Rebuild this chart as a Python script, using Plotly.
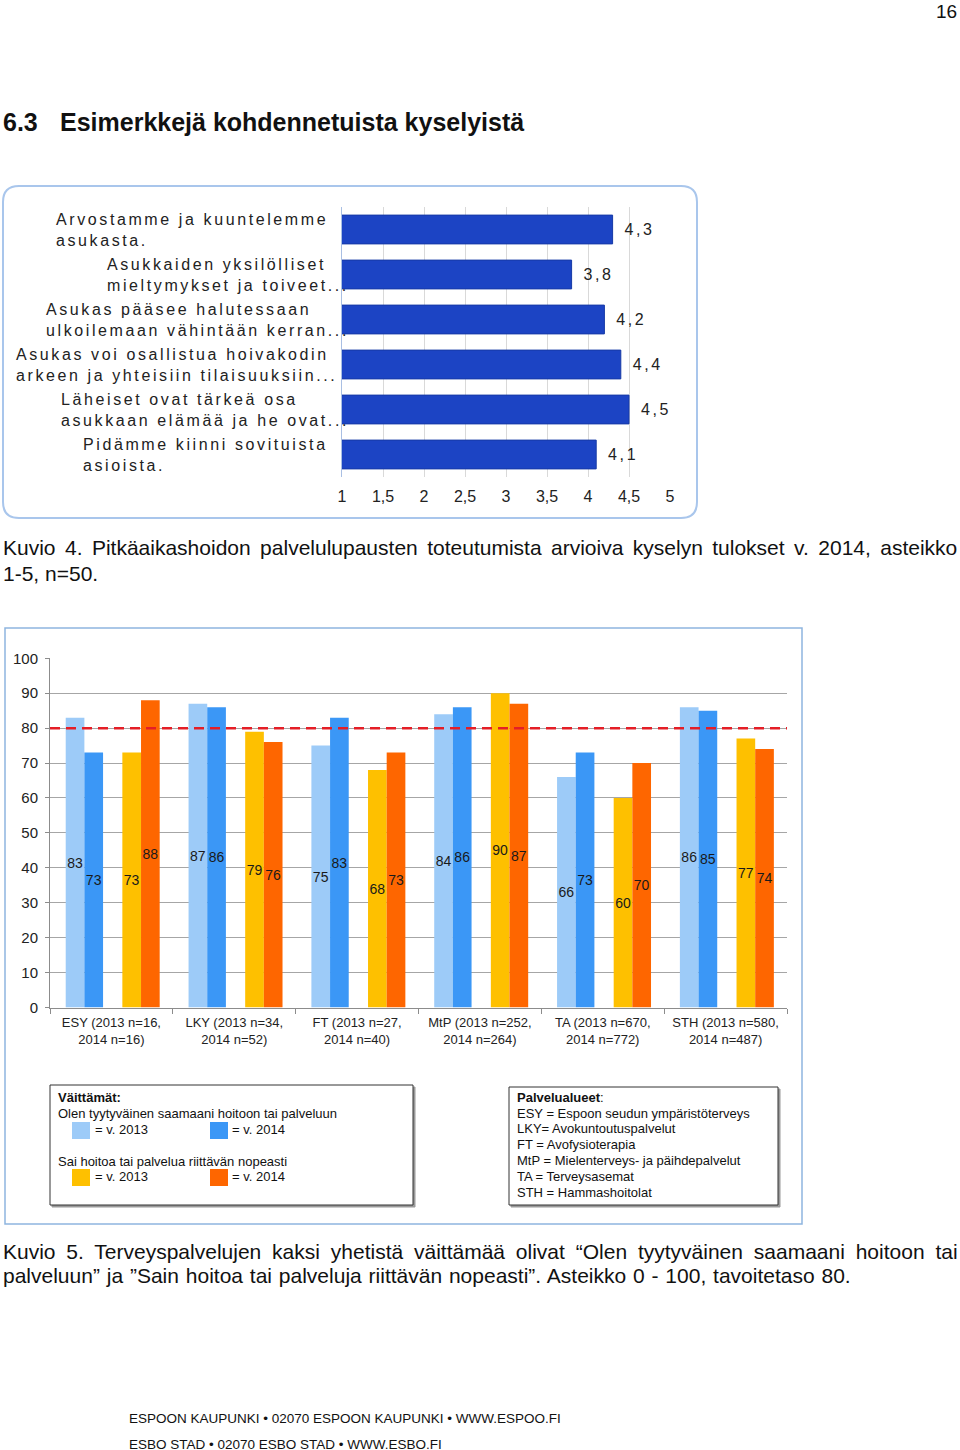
import plotly.graph_objects as go

W, H = 960, 1450


def fx(x):
    return x / W


def fy(y):
    return 1 - y / H


# --- Kuvio 4: palvelulupaukset (asteikko 1-5) ---
promises = [
    ["Arvostamme ja kuuntelemme", "asukasta."],
    ["Asukkaiden yksilölliset", "mieltymykset ja toiveet..."],
    ["Asukas pääsee halutessaan", "ulkoilemaan vähintään kerran..."],
    ["Asukas voi osallistua hoivakodin", "arkeen ja yhteisiin tilaisuuksiin..."],
    ["Läheiset ovat tärkeä osa", "asukkaan elämää ja he ovat..."],
    ["Pidämme kiinni sovituista", "asioista."],
]
scores = [4.3, 3.8, 4.2, 4.4, 4.5, 4.1]
score_ticks = [1, 1.5, 2, 2.5, 3, 3.5, 4, 4.5, 5]

# --- Kuvio 5: terveyspalvelujen väittämät (0-100) ---
units = [
    "ESY (2013 n=16,<br>2014 n=16)",
    "LKY (2013 n=34,<br>2014 n=52)",
    "FT (2013 n=27,<br>2014 n=40)",
    "MtP (2013 n=252,<br>2014 n=264)",
    "TA (2013 n=670,<br>2014 n=772)",
    "STH (2013 n=580,<br>2014 n=487)",
]
satisfied_2013 = [83, 87, 75, 84, 66, 86]
satisfied_2014 = [73, 86, 83, 86, 73, 85]
quick_2013 = [73, 79, 68, 90, 60, 77]
quick_2014 = [88, 76, 73, 87, 70, 74]
target = 80
pct_ticks = [0, 10, 20, 30, 40, 50, 60, 70, 80, 90, 100]

unit_names = [
    "ESY = Espoon seudun ympäristöterveys",
    "LKY= Avokuntoutuspalvelut",
    "FT = Avofysioterapia",
    "MtP = Mielenterveys- ja päihdepalvelut",
    "TA = Terveysasemat",
    "STH = Hammashoitolat",
]

C_LB, C_B, C_Y, C_O = "#9dcbf8", "#3b97f6", "#fec000", "#fe6600"
SANS = "Liberation Sans, Arial, sans-serif"
LS = 2.6  # letter spacing of the Excel-style labels

# rough Arial advance widths, used only to let the "..." hang past the label block
ADV = dict(zip(" abcdeghijklmnoprstuvyäöALP.",
               [278, 556, 556, 500, 556, 556, 556, 556, 222, 222, 500, 222, 833, 556,
                556, 556, 333, 500, 278, 556, 500, 500, 556, 556, 667, 556, 667, 278]))


def text_w(s, size=16):
    return sum(ADV.get(c, 556) for c in s) * size / 1000 + LS * len(s)


def spaced(s, ls=LS):
    return f'<span style="letter-spacing:{ls}px">{s}</span>'


def justified(s, ws):
    return f'<span style="word-spacing:{ws}px">{s}</span>'


cats = [" ".join(p) for p in promises]

fig = go.Figure()

fig.add_trace(go.Bar(
    x=scores, y=cats, orientation="h", xaxis="x", yaxis="y",
    marker=dict(color="#1c44c4", line=dict(color="#163aa6", width=1)),
    text=["\u00a0\u00a0" + spaced(f"{v:.1f}".replace(".", ",")) for v in scores],
    textposition="outside", textfont=dict(family=SANS, size=16, color="#222"),
    cliponaxis=False, showlegend=False,
))

offsets = [-0.372, -0.220, 0.089, 0.241]
for vals, col, off in zip([satisfied_2013, satisfied_2014, quick_2013, quick_2014],
                          [C_LB, C_B, C_Y, C_O], offsets):
    fig.add_trace(go.Bar(
        x=units, y=vals, xaxis="x2", yaxis="y2",
        marker=dict(color=col, line=dict(width=0)),
        width=0.152, offset=off,
        text=vals, textposition="inside", insidetextanchor="middle",
        textangle=0, constraintext="none",
        textfont=dict(family=SANS, size=14, color="#1a1a1a"),
        showlegend=False,
    ))

fig.update_layout(
    width=W, height=H, margin=dict(l=0, r=0, t=0, b=0, pad=0, autoexpand=False),
    paper_bgcolor="white", plot_bgcolor="white",
    separators=", ", barmode="overlay", bargap=0.36,
    xaxis=dict(
        domain=[fx(342), fx(670)], range=[1, 5], tickvals=score_ticks,
        showgrid=True, gridcolor="#d9d9d9", zeroline=False, automargin=False,
        showline=False, ticks="", ticklabelstandoff=8,
        tickfont=dict(family=SANS, size=16, color="#222"), anchor="y",
    ),
    yaxis=dict(
        domain=[fy(477), fy(207)], autorange="reversed", showticklabels=False,
        showgrid=False, showline=True, linecolor="#a9bfe3", ticks="", anchor="x",
        automargin=False,
    ),
    xaxis2=dict(
        domain=[fx(50), fx(787)], anchor="y2", showline=True, linecolor="#8c8c8c",
        ticks="outside", tickson="boundaries", ticklen=5, tickcolor="#8c8c8c",
        ticklabelstandoff=3,
        tickfont=dict(family=SANS, size=13, color="#222"), showgrid=False,
        automargin=False,
    ),
    yaxis2=dict(
        domain=[fy(1007.5), fy(658.3)], range=[0, 100], tickvals=pct_ticks,
        anchor="x2", showline=True, linecolor="#8c8c8c", showgrid=True,
        gridcolor="#a6a6a6", zeroline=False, ticks="outside", ticklen=4,
        ticklabelstandoff=4,
        tickcolor="#8c8c8c", tickfont=dict(family=SANS, size=15, color="#222"),
        automargin=False,
    ),
)


def rounded_rect(x0, y0, x1, y1, r):
    X0, X1 = fx(x0), fx(x1)
    Y0, Y1 = fy(y0), fy(y1)
    rx, ry = r / W, r / H
    return (f"M{X0 + rx},{Y0} L{X1 - rx},{Y0} Q{X1},{Y0} {X1},{Y0 - ry} "
            f"L{X1},{Y1 + ry} Q{X1},{Y1} {X1 - rx},{Y1} L{X0 + rx},{Y1} "
            f"Q{X0},{Y1} {X0},{Y1 + ry} L{X0},{Y0 - ry} Q{X0},{Y0} {X0 + rx},{Y0} Z")


def box(x0, y0, x1, y1, color, width=1, fill=None):
    return dict(type="rect", xref="paper", yref="paper",
                x0=fx(x0), x1=fx(x1), y0=fy(y1), y1=fy(y0),
                line=dict(color=color, width=width), fillcolor=fill, layer="above")


shapes = [
    dict(type="path", xref="paper", yref="paper", path=rounded_rect(3, 186, 697, 518, 16),
         line=dict(color="#a9c6ec", width=2)),
    box(5, 628, 802, 1224, "#8fb5df", 1.5),
    dict(type="line", xref="x2 domain", yref="y2", x0=0, x1=1, y0=target, y1=target,
         line=dict(color="#e41e26", width=2.5, dash="10px,6px"), layer="above"),
    # legend boxes with a soft shadow
    box(52, 1087, 415, 1207, "#9a9a9a", 1, "#9a9a9a"),
    box(50, 1085, 413, 1205, "#333", 1, "white"),
    box(511, 1089, 780, 1207, "#9a9a9a", 1, "#9a9a9a"),
    box(509, 1087, 778, 1205, "#333", 1, "white"),
    box(72, 1122, 90, 1139, C_LB, 0, C_LB),
    box(210, 1122, 228, 1139, C_B, 0, C_B),
    box(72, 1169, 90, 1186, C_Y, 0, C_Y),
    box(210, 1169, 228, 1186, C_O, 0, C_O),
]
fig.update_layout(shapes=shapes)

ann = []


def text(x, y, s, size=13, anchor="left", color="#111", **kw):
    ann.append(dict(xref="paper", yref="paper", x=fx(x), y=fy(y), text=s,
                    showarrow=False, xanchor=anchor, yanchor="middle",
                    borderpad=0, borderwidth=0,
                    font=dict(family=SANS, size=size, color=color), **kw))


# page header
text(957, 11, "16", size=19, anchor="right")
text(3, 122, "<b>6.3</b>", size=25)
text(60, 122, "<b>Esimerkkejä kohdennetuista kyselyistä</b>", size=25)

# category labels of Kuvio 4: block right-aligned, the "..." hangs over the edge
for cat, lines in zip(cats, promises):
    full = max(text_w(s) for s in lines)
    core = max(text_w(s.rstrip(".") if s.endswith("...") else s) for s in lines)
    ann.append(dict(xref="paper", yref="y", x=fx(328), y=cat, showarrow=False,
                    xanchor="right", align="left", xshift=full - core,
                    borderpad=0, borderwidth=0,
                    text="<br>".join(spaced(s) for s in lines),
                    font=dict(family=SANS, size=16, color="#222")))

# captions
text(3, 547, justified("Kuvio 4. Pitkäaikashoidon palvelulupausten toteutumista arvioiva "
                       "kyselyn tulokset v. 2014, asteikko", 3.6), size=21)
text(3, 573, "1-5, n=50.", size=21)
text(3, 1251, justified("Kuvio 5. Terveyspalvelujen kaksi yhetistä väittämää olivat “Olen "
                        "tyytyväinen saamaani hoitoon tai", 5.0), size=21)
text(3, 1275, justified("palveluun” ja ”Sain hoitoa tai palveluja riittävän nopeasti”. "
                        "Asteikko 0 - 100, tavoitetaso 80.", 1.0), size=21)

# legend box texts
text(58, 1097, "<b>Väittämät:</b>")
text(58, 1113, "Olen tyytyväinen saamaani hoitoon tai palveluun")
text(95, 1129, "= v. 2013")
text(232, 1129, "= v. 2014")
text(58, 1161, "Sai hoitoa tai palvelua riittävän nopeasti")
text(95, 1176, "= v. 2013")
text(232, 1176, "= v. 2014")
text(517, 1097, "<b>Palvelualueet</b>:")
for i, s in enumerate(unit_names):
    text(517, 1113 + i * 15.8, s)

# footer
text(129, 1418, "ESPOON KAUPUNKI • 02070 ESPOON KAUPUNKI • WWW.ESPOO.FI", size=13.5)
text(129, 1444, "ESBO STAD • 02070 ESBO STAD • WWW.ESBO.FI", size=13.5)

fig.update_layout(annotations=ann)
fig.write_html("out.html", config={"displayModeBar": False},
               post_script="document.body.style.margin='0';")
